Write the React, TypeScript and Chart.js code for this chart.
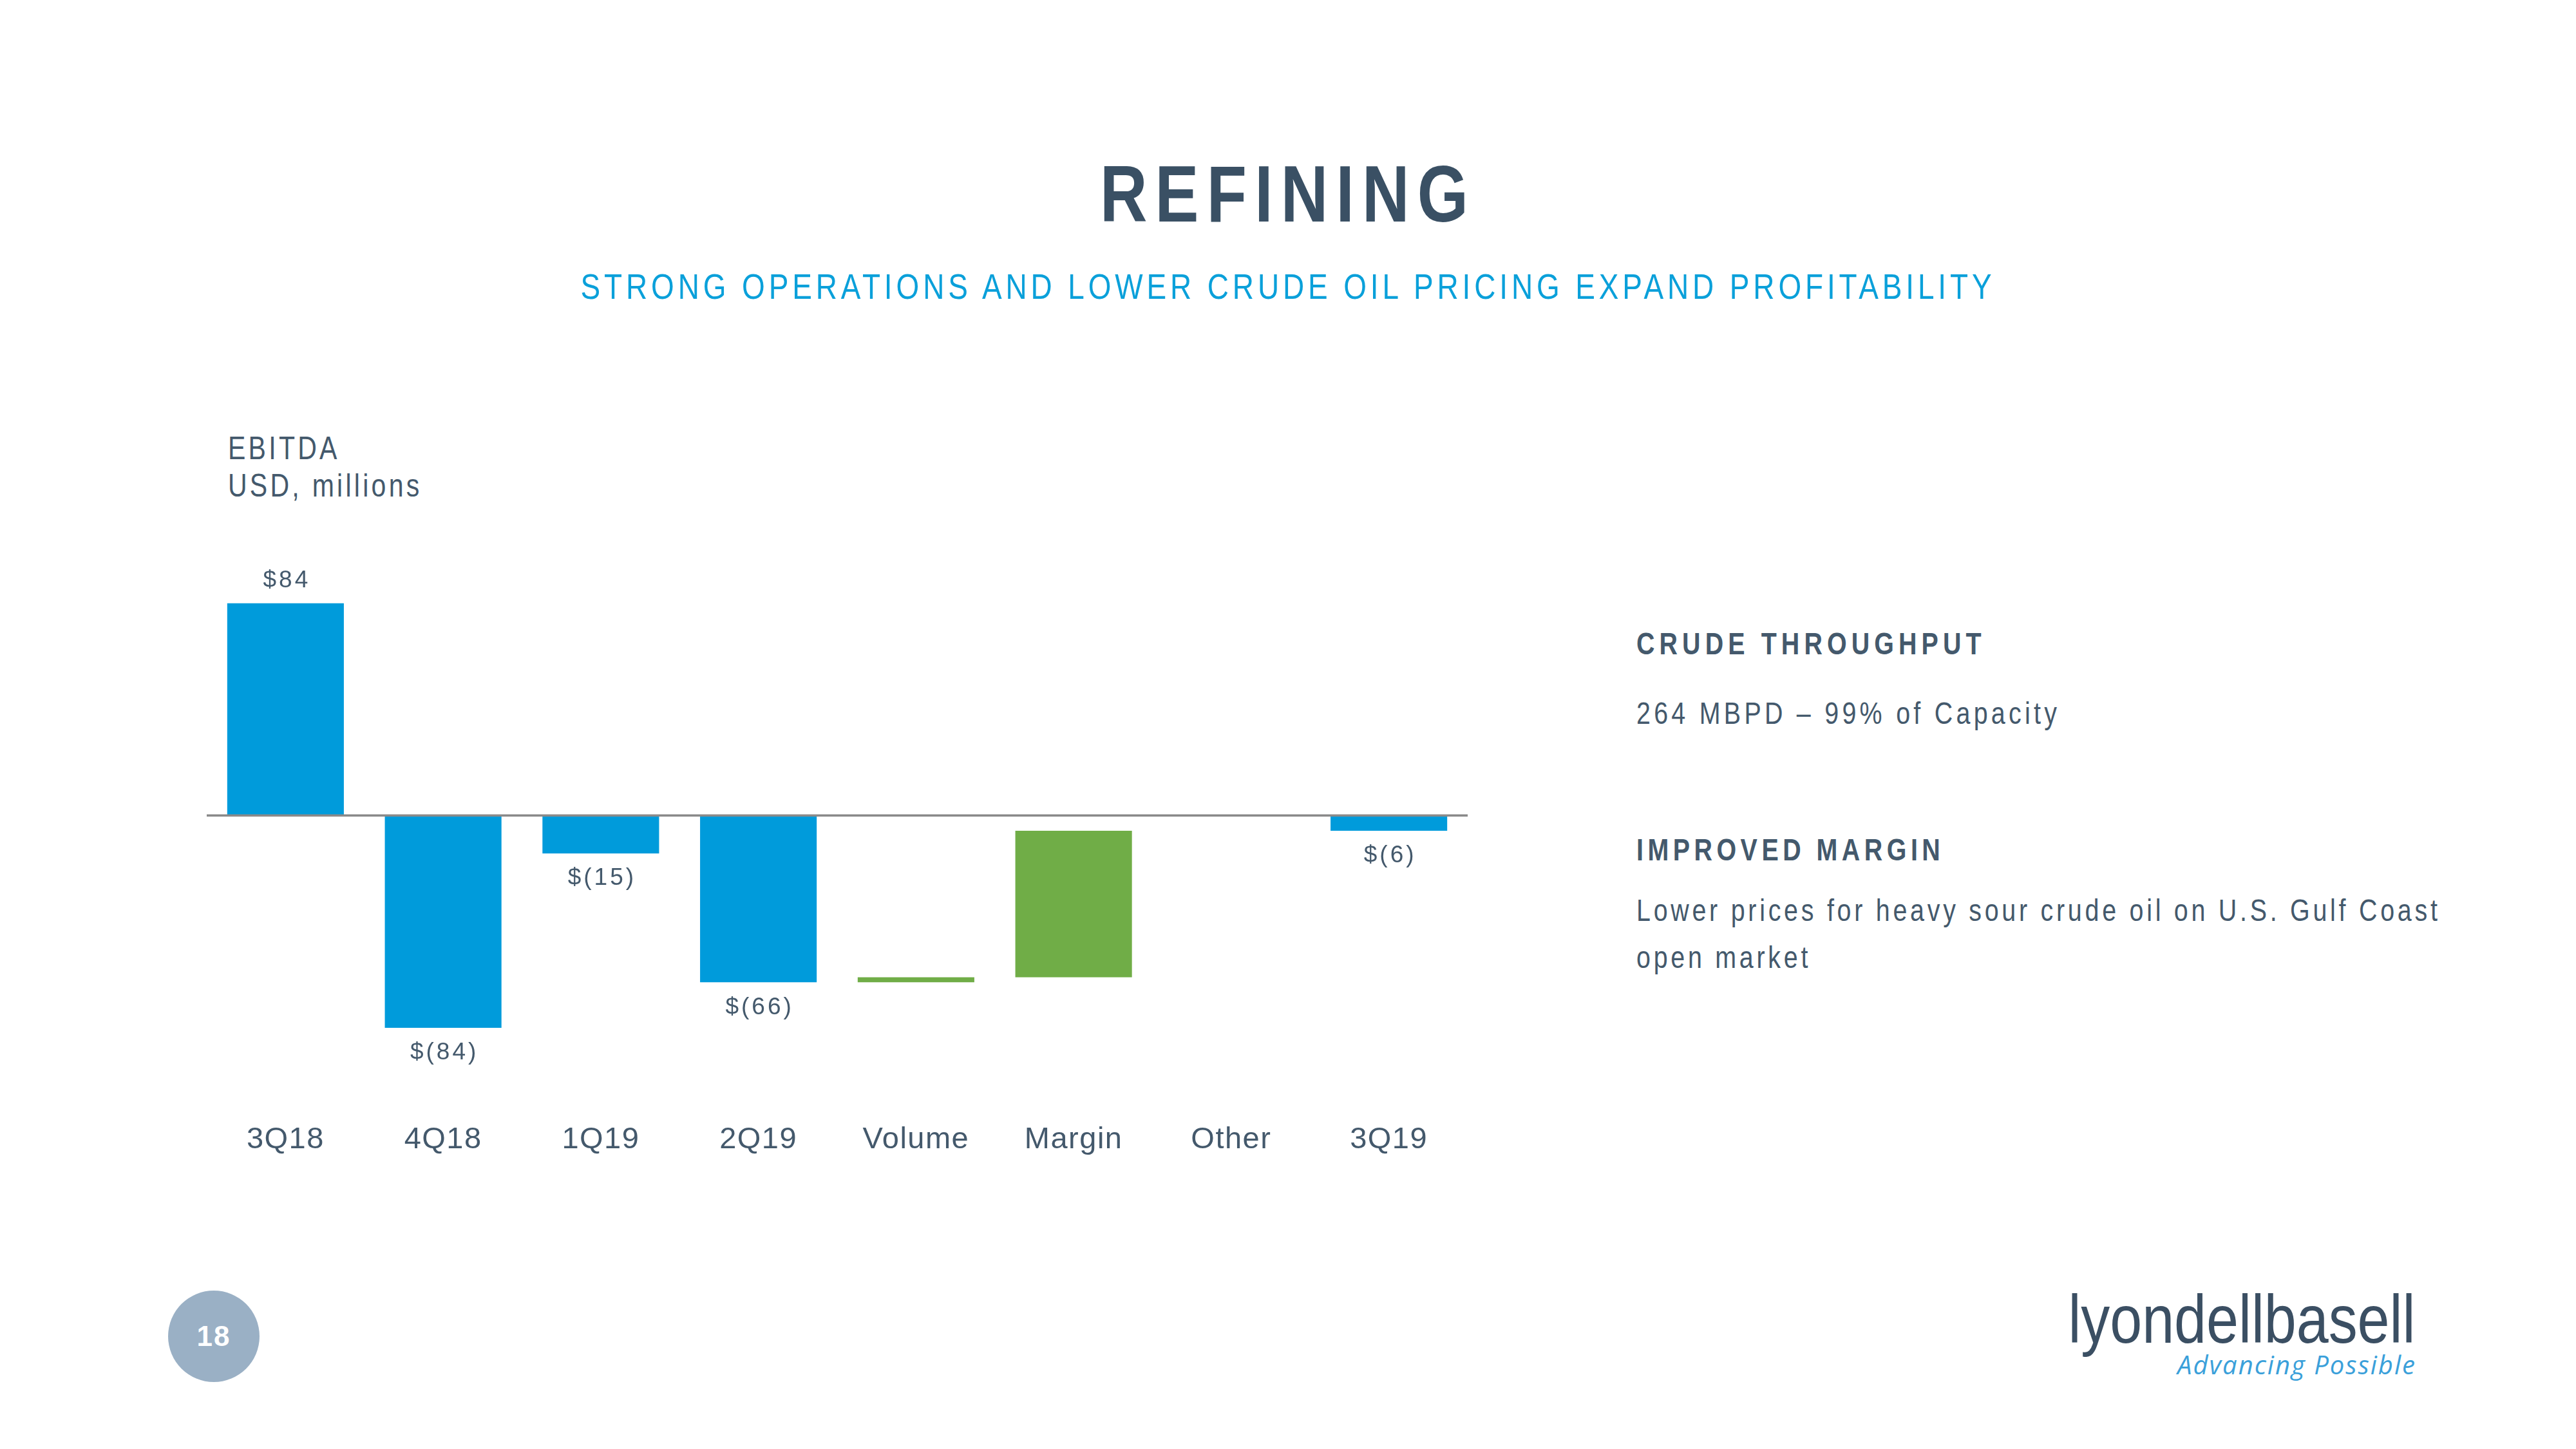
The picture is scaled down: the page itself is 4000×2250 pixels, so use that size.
import React, { useEffect, useRef } from 'react';
import { Chart, registerables } from 'chart.js';

Chart.register(...registerables);

// ---- data ----
const categories = ['3Q18', '4Q18', '1Q19', '2Q19', 'Volume', 'Margin', 'Other', '3Q19'];
const values = [84, -84, -15, -66, 2, 58, 0, -6];
const kinds = ['total', 'total', 'total', 'total', 'delta', 'delta', 'delta', 'total'];
const yMin = -115;
const yMax = 100;

// ---- styles ----
const BLUE = '#009BDB';
const GREEN = '#70AD47';
const RED = '#C0504D';
const TEXT = '#44596C';
const TITLE = '#3A5064';
const CYAN = '#0AA0DA';
const SANS = '"Liberation Sans", Arial, sans-serif';

function fmt(v: number): string {
  return v >= 0 ? `$${v}` : `$(${-v})`;
}

function buildBars(): [number, number][] {
  let run = 0;
  return values.map((v, i) => {
    if (kinds[i] === 'total') {
      run = v;
      return [0, v] as [number, number];
    }
    const s = run;
    run = run + v;
    return [s, run] as [number, number];
  });
}

const decoPlugin = {
  id: 'deco',
  beforeDraw(chart: any) {
    try { chart.ctx.letterSpacing = '1.5px'; } catch (e) { /* ignore */ }
  },
  afterDatasetsDraw(chart: any) {
    const { ctx, chartArea } = chart;
    const y = chart.scales.y;
    const y0 = y.getPixelForValue(0);
    ctx.save();
    ctx.strokeStyle = '#8A8A8A';
    ctx.lineWidth = 3.5;
    ctx.beginPath();
    ctx.moveTo(chartArea.left, y0);
    ctx.lineTo(chartArea.right, y0);
    ctx.stroke();

    const meta = chart.getDatasetMeta(0);
    ctx.font = `37px ${SANS}`;
    ctx.fillStyle = TEXT;
    ctx.textAlign = 'center';
    ctx.textBaseline = 'middle';
    try { ctx.letterSpacing = '4px'; } catch (e) { /* ignore */ }
    values.forEach((v, i) => {
      if (kinds[i] !== 'total') return;
      const el = meta.data[i];
      const yy = v >= 0 ? el.y - 35 : el.y + 39;
      ctx.fillText(fmt(v), el.x + 2, yy);
    });
    ctx.restore();
  },
};

function WaterfallChart() {
  const ref = useRef<HTMLCanvasElement | null>(null);
  useEffect(() => {
    if (!ref.current) return;
    const bars = buildBars();
    const colors = values.map((v, i) => (kinds[i] === 'total' ? BLUE : v >= 0 ? GREEN : RED));
    const chart = new Chart(ref.current, {
      type: 'bar',
      data: {
        labels: categories,
        datasets: [
          {
            data: bars as any,
            backgroundColor: colors,
            borderWidth: 0,
            barPercentage: 0.74,
            categoryPercentage: 1,
          },
        ],
      },
      options: {
        responsive: false,
        maintainAspectRatio: false,
        animation: false,
        devicePixelRatio: 1,
        layout: { padding: 0 },
        plugins: { legend: { display: false }, tooltip: { enabled: false } },
        scales: {
          x: {
            grid: { display: false },
            border: { display: false },
            ticks: {
              color: TEXT,
              font: { family: SANS, size: 47 },
              padding: 16,
              maxRotation: 0,
              autoSkip: false,
            },
          },
          y: { display: false, min: yMin, max: yMax },
        },
      },
      plugins: [decoPlugin],
    });
    return () => chart.destroy();
  }, []);
  return (
    <canvas
      ref={ref}
      width={1958}
      height={940}
      style={{ position: 'absolute', left: 321, top: 874, width: 1958, height: 940 }}
    />
  );
}

export default function App() {
  const base: React.CSSProperties = {
    position: 'absolute',
    fontFamily: SANS,
    whiteSpace: 'nowrap',
    margin: 0,
  };
  const narrowLeft: React.CSSProperties = {
    transform: 'scaleX(0.82)',
    transformOrigin: '0 0',
  };
  const narrowCenter: React.CSSProperties = {
    transform: 'scaleX(0.82)',
    transformOrigin: '50% 0',
  };
  return (
    <div
      style={{
        position: 'absolute',
        left: 0,
        top: 0,
        width: 4000,
        height: 2250,
        background: '#ffffff',
        overflow: 'hidden',
        fontFamily: SANS,
      }}
    >
      <div
        style={{
          ...base,
          ...narrowCenter,
          left: 0,
          width: 4000,
          top: 239,
          textAlign: 'center',
          fontSize: 124,
          lineHeight: '124px',
          fontWeight: 700,
          letterSpacing: 15,
          color: TITLE,
        }}
      >
        REFINING
      </div>
      <div
        style={{
          ...base,
          ...narrowCenter,
          left: 0,
          width: 4000,
          top: 417,
          textAlign: 'center',
          fontSize: 56,
          lineHeight: '56px',
          letterSpacing: 7.2,
          color: CYAN,
        }}
      >
        STRONG OPERATIONS AND LOWER CRUDE OIL PRICING EXPAND PROFITABILITY
      </div>

      <div
        style={{
          ...base,
          ...narrowLeft,
          left: 354,
          top: 667,
          fontSize: 50,
          lineHeight: '58px',
          letterSpacing: 5.2,
          color: TEXT,
        }}
      >
        EBITDA
        <br />
        USD, millions
      </div>

      <WaterfallChart />

      <div
        style={{
          ...base,
          ...narrowLeft,
          left: 2541,
          top: 976,
          fontSize: 48,
          lineHeight: '48px',
          fontWeight: 700,
          letterSpacing: 8.7,
          color: TEXT,
        }}
      >
        CRUDE THROUGHPUT
      </div>
      <div
        style={{
          ...base,
          ...narrowLeft,
          left: 2541,
          top: 1084,
          fontSize: 48,
          lineHeight: '48px',
          letterSpacing: 6.45,
          color: TEXT,
        }}
      >
        264 MBPD – 99% of Capacity
      </div>
      <div
        style={{
          ...base,
          ...narrowLeft,
          left: 2541,
          top: 1296,
          fontSize: 48,
          lineHeight: '48px',
          fontWeight: 700,
          letterSpacing: 7.95,
          color: TEXT,
        }}
      >
        IMPROVED MARGIN
      </div>
      <div
        style={{
          ...base,
          ...narrowLeft,
          left: 2541,
          top: 1377,
          fontSize: 48,
          lineHeight: '73px',
          letterSpacing: 5.8,
          color: TEXT,
        }}
      >
        Lower prices for heavy sour crude oil on U.S. Gulf Coast
        <br />
        open market
      </div>

      <div
        style={{
          position: 'absolute',
          left: 261,
          top: 2004,
          width: 142,
          height: 142,
          borderRadius: '50%',
          background: '#9AB0C5',
          color: '#ffffff',
          display: 'flex',
          alignItems: 'center',
          justifyContent: 'center',
          fontFamily: SANS,
          fontWeight: 700,
          fontSize: 44,
          letterSpacing: 2,
        }}
      >
        18
      </div>

      <div
        style={{
          ...base,
          right: 250,
          top: 1996,
          fontSize: 105,
          lineHeight: '105px',
          color: '#3B4F63',
          textAlign: 'right',
          transform: 'scaleX(0.855)',
          transformOrigin: '100% 0',
        }}
      >
        lyondellbasell
      </div>
      <div
        style={{
          ...base,
          right: 248,
          top: 2099,
          fontFamily: '"Open Sans", sans-serif',
          fontStyle: 'italic',
          fontSize: 40,
          lineHeight: '40px',
          letterSpacing: 2,
          color: '#3AA0DA',
          textAlign: 'right',
        }}
      >
        Advancing Possible
      </div>
    </div>
  );
}
